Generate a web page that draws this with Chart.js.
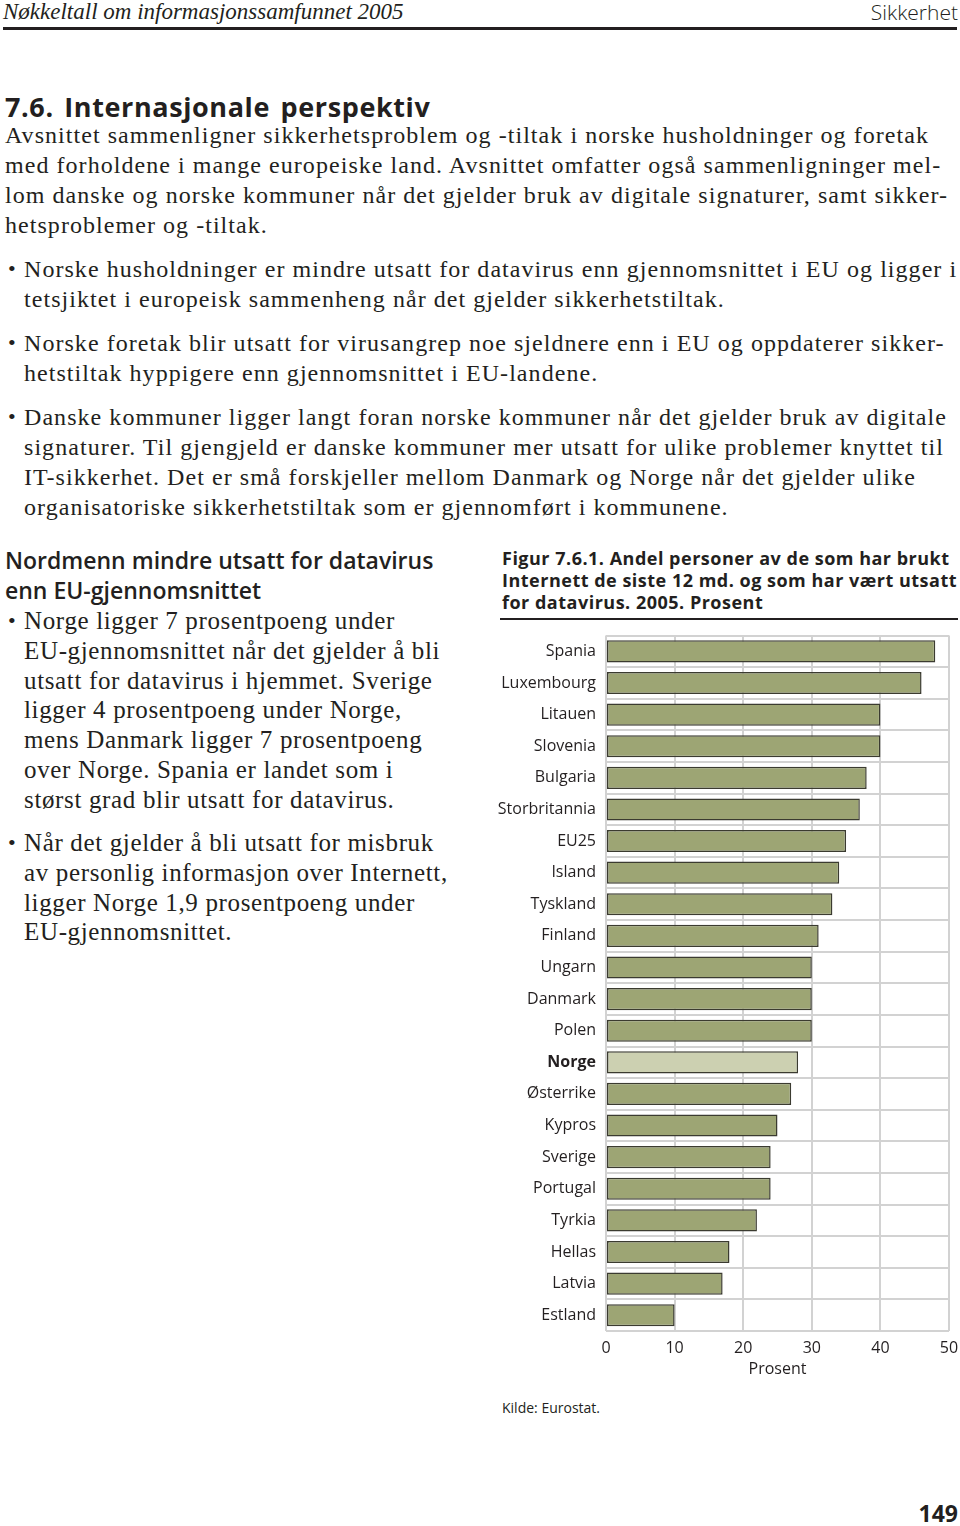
<!DOCTYPE html>
<html lang="no">
<head>
<meta charset="utf-8">
<title>Sikkerhet - Internasjonale perspektiv</title>
<script src="https://cdn.jsdelivr.net/npm/chart.js@4.4.1/dist/chart.umd.min.js"></script>
<style>
  html, body { margin: 0; padding: 0; background: #fff; }
  body { width: 960px; height: 1526px; position: relative; overflow: hidden; color: #231f20; }
  .abs { position: absolute; white-space: nowrap; }
  .serif { font-family: "Liberation Serif", "Times New Roman", serif; }
  .sans { font-family: "Open Sans", "Noto Sans", sans-serif; }
  .hdr { top: 0; left: 3px; font-size: 23px; font-style: italic; line-height: 24px; }
  .hdr-r { top: 0; right: 2px; font-size: 21px; font-weight: 300; line-height: 24px; }
  .rule { position: absolute; left: 3px; width: 954px; top: 27px; height: 3px; background: #231f20; }
  .h1 { left: 5px; top: 91px; font-size: 27px; font-weight: 700; line-height: 32px; letter-spacing: 0.6px; word-spacing: 3px; }
  .body { left: 5px; font-size: 24px; line-height: 30px; letter-spacing: 1.05px; }
  .bul { position: absolute; font-size: 22px; line-height: 30px; }
  .colh { left: 5px; top: 545px; font-size: 23px; font-weight: 600; line-height: 30px; }
  .lbody { font-size: 25px; line-height: 29.8px; letter-spacing: 0.65px; }
  .figt { left: 502px; top: 547px; font-size: 18px; font-weight: 700; line-height: 22px; letter-spacing: 0.5px; }
  .figrule { position: absolute; left: 500px; width: 458px; top: 618px; height: 2px; background: #231f20; }
  #wrap { position: absolute; left: 497px; top: 616px; width: 463px; height: 772px; }
  .src { left: 502px; top: 1398px; font-size: 14px; line-height: 20px; }
  .pg { right: 2px; top: 1498px; font-size: 23px; font-weight: 700; line-height: 30px; }
</style>
</head>
<body>

<div class="abs serif hdr">Nøkkeltall om informasjonssamfunnet 2005</div>
<div class="abs sans hdr-r">Sikkerhet</div>
<div class="rule"></div>

<div class="abs sans h1">7.6. Internasjonale perspektiv</div>
<div class="abs serif body" style="top:120px">
Avsnittet sammenligner sikkerhetsproblem og -tiltak i norske husholdninger og foretak<br>
med forholdene i mange europeiske land. Avsnittet omfatter også sammenligninger mel-<br>
lom danske og norske kommuner når det gjelder bruk av digitale signaturer, samt sikker-<br>
hetsproblemer og -tiltak.
</div>

<div class="bul serif" style="left:8px;top:254px">•</div>
<div class="abs serif body" style="left:24px;top:254px">
Norske husholdninger er mindre utsatt for datavirus enn gjennomsnittet i EU og ligger i<br>
tetsjiktet i europeisk sammenheng når det gjelder sikkerhetstiltak.
</div>
<div class="bul serif" style="left:8px;top:328px">•</div>
<div class="abs serif body" style="left:24px;top:328px">
Norske foretak blir utsatt for virusangrep noe sjeldnere enn i EU og oppdaterer sikker-<br>
hetstiltak hyppigere enn gjennomsnittet i EU-landene.
</div>
<div class="bul serif" style="left:8px;top:402px">•</div>
<div class="abs serif body" style="left:24px;top:402px">
Danske kommuner ligger langt foran norske kommuner når det gjelder bruk av digitale<br>
signaturer. Til gjengjeld er danske kommuner mer utsatt for ulike problemer knyttet til<br>
IT-sikkerhet. Det er små forskjeller mellom Danmark og Norge når det gjelder ulike<br>
organisatoriske sikkerhetstiltak som er gjennomført i kommunene.
</div>

<div class="abs sans colh">Nordmenn mindre utsatt for datavirus<br>enn EU-gjennomsnittet</div>
<div class="bul serif" style="left:8px;top:606px">•</div>
<div class="abs serif lbody" style="left:24px;top:606px">
Norge ligger 7 prosentpoeng under<br>
EU-gjennomsnittet når det gjelder å bli<br>
utsatt for datavirus i hjemmet. Sverige<br>
ligger 4 prosentpoeng under Norge,<br>
mens Danmark ligger 7 prosentpoeng<br>
over Norge. Spania er landet som i<br>
størst grad blir utsatt for datavirus.
</div>
<div class="bul serif" style="left:8px;top:828px">•</div>
<div class="abs serif lbody" style="left:24px;top:828px">
Når det gjelder å bli utsatt for misbruk<br>
av personlig informasjon over Internett,<br>
ligger Norge 1,9 prosentpoeng under<br>
EU-gjennomsnittet.
</div>

<div class="abs sans figt">Figur 7.6.1. Andel personer av de som har brukt<br>Internett de siste 12 md. og som har vært utsatt<br>for datavirus. 2005. Prosent</div>
<div class="figrule"></div>

<div id="wrap"><canvas id="virusChart"></canvas></div>

<div class="abs sans src">Kilde: Eurostat.</div>
<div class="abs sans pg">149</div>

<script>
// =============================
// DATA
// =============================
const countries = [
  "Spania", "Luxembourg", "Litauen", "Slovenia", "Bulgaria", "Storbritannia",
  "EU25", "Island", "Tyskland", "Finland", "Ungarn", "Danmark", "Polen",
  "Norge", "Østerrike", "Kypros", "Sverige", "Portugal", "Tyrkia",
  "Hellas", "Latvia", "Estland"
];
const virusShare = [
  48, 46, 40, 40, 38, 37,
  35, 34, 33, 31, 30, 30, 30,
  28, 27, 25, 24, 24, 22,
  18, 17, 10
];
const xTicks = [0, 10, 20, 30, 40, 50];
const highlight = "Norge";

// =============================
// CHART
// =============================
document.addEventListener("DOMContentLoaded", () => {
  const ctx = document.getElementById("virusChart");
  if (!ctx || !window.Chart) return;

  Chart.defaults.font.family = "'Open Sans', 'Noto Sans', sans-serif";
  Chart.defaults.color = "#231f20";

  const gridGrey = "#d2d2d2";

  new Chart(ctx, {
    type: "bar",
    data: {
      labels: countries,
      datasets: [
        {
          data: virusShare,
          backgroundColor: countries.map((c) => (c === highlight ? "#ccd0b1" : "#9da574")),
          borderColor: "#3b3b30",
          borderWidth: 1.5,
          borderSkipped: false,
          barPercentage: 0.7,
          categoryPercentage: 1.0,
        },
      ],
    },
    options: {
      indexAxis: "y",
      responsive: true,
      maintainAspectRatio: false,
      animation: false,
      layout: { padding: { top: 8, right: 0, bottom: 0, left: 0 } },
      scales: {
        x: {
          min: 0,
          max: 50,
          afterBuildTicks: (axis) => {
            axis.ticks = xTicks.map((v) => ({ value: v }));
          },
          afterFit: (axis) => {
            axis.height = 57;
            axis.paddingRight = 11; // room for "50" only
          },
          grid: { color: gridGrey, lineWidth: 2, drawTicks: false },
          border: { display: false },
          ticks: { font: { size: 16 }, padding: 8, color: "#231f20" },
          title: {
            display: true,
            text: "Prosent",
            font: { size: 16 },
            color: "#231f20",
            padding: { top: 0, bottom: 9 },
          },
        },
        y: {
          afterFit: (axis) => {
            axis.width = 109;
          },
          grid: { color: gridGrey, lineWidth: 2, drawTicks: false, offset: true },
          border: { display: false },
          ticks: {
            padding: 10,
            color: "#231f20",
            font: (c) => ({
              size: 16,
              weight: c.tick && c.tick.label === highlight ? "bold" : "normal",
            }),
          },
        },
      },
      plugins: {
        legend: { display: false },
        tooltip: { enabled: false },
      },
    },
  });
});
</script>
</body>
</html>
